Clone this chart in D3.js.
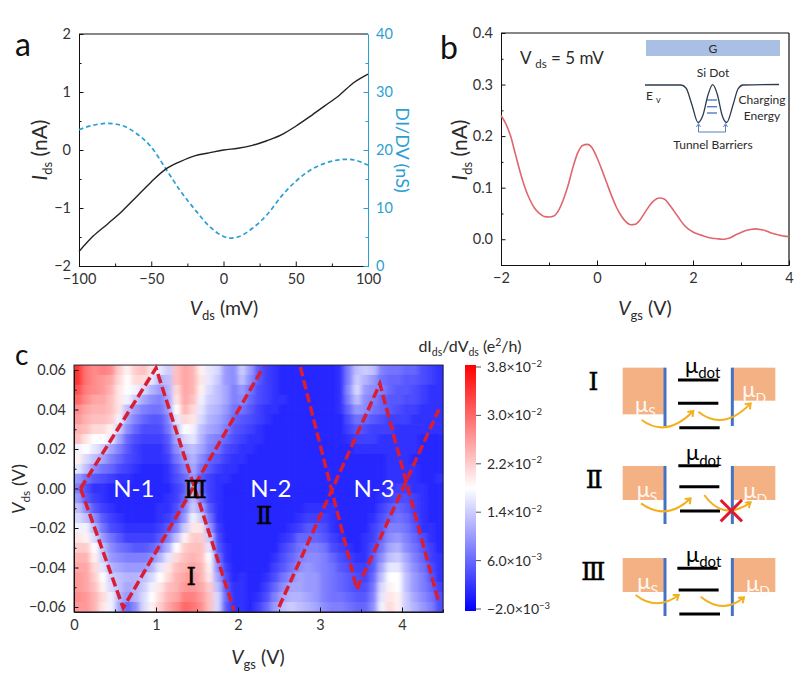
<!DOCTYPE html>
<html>
<head>
<meta charset="utf-8">
<script src="https://cdn.jsdelivr.net/npm/d3@7"></script>
<style>
body { margin: 0; background: #fff; }
svg { display: block; }
text { font-family: Lato, "Open Sans", sans-serif; fill: #2b2b2b; }
.tick text { font-size: 14.5px; }
.rom { font-family: "DejaVu Serif"; fill: #000; stroke: #000; stroke-width: 0.5px; }
</style>
</head>
<body>
<div id="vis"></div>
<script>
// panel a
var vdsA = [-100,-90,-80,-70,-60,-50,-40,-30,-20,-10,0,10,20,30,40,50,60,70,80,90,100];
var idsA = [-1.75,-1.48,-1.27,-1.05,-0.8,-0.55,-0.33,-0.2,-0.1,-0.05,0,0.03,0.08,0.16,0.26,0.41,0.58,0.76,0.94,1.16,1.31];
var vdsDidv = [-100,-90,-80,-70,-60,-50,-40,-30,-20,-10,0,5,10,20,30,40,50,60,70,80,85,90,100];
var didv = [23.5,24.3,24.6,24.2,22.8,20.5,16.8,13,9.8,6.9,5.1,4.8,5,6.5,8.8,12,14.6,16.5,17.7,18.3,18.4,18.3,17.4];

// panel b
var vgsB = [-2,-1.9,-1.8,-1.7,-1.6,-1.5,-1.4,-1.3,-1.2,-1.1,-1,-0.9,-0.8,-0.7,-0.6,-0.5,-0.4,-0.3,-0.2,-0.1,0,0.1,0.2,0.3,0.4,0.5,0.6,0.7,0.8,0.9,1,1.1,1.2,1.3,1.4,1.5,1.6,1.7,1.8,1.9,2,2.1,2.2,2.3,2.4,2.5,2.6,2.7,2.8,2.9,3,3.1,3.2,3.3,3.4,3.5,3.6,3.7,3.8,3.9,4];
var idsB = [0.24,0.224,0.2,0.165,0.13,0.1,0.077,0.06,0.05,0.044,0.043,0.045,0.056,0.077,0.105,0.14,0.168,0.182,0.184,0.177,0.158,0.135,0.11,0.085,0.063,0.046,0.034,0.028,0.029,0.038,0.052,0.066,0.076,0.08,0.078,0.068,0.055,0.042,0.029,0.02,0.014,0.01,0.007,0.004,0.002,0.001,0,0.001,0.004,0.009,0.013,0.017,0.019,0.02,0.019,0.017,0.013,0.01,0.008,0.006,0.005];

// panel c, units of 1e-3 e2/h, rows top to bottom, 45 columns of 0.1 V
var rowVds = [0.06,0.055,0.05,0.045,0.04,0.035,0.03,0.025,0.02,0.015,0.01,0.005,0,-0.005,-0.01,-0.015,-0.02,-0.025,-0.03,-0.035,-0.04,-0.045,-0.05,-0.055,-0.06];
var didvMap = [
[34,29,27,28,27,22,19,22,23,20,16,14,23,25,24,19,16,15,10,9,14,10,5,3,2,1,1,1,1,1,1,1,2,8,13,14,13,8,7,7,6,6,4,3,2],
[34,29,27,26,25,21,18,21,21,16,12,13,23,25,24,20,16,14,10,9,13,9,5,3,2,1,1,1,1,1,1,1,2,8,14,12,10,7,6,6,5,5,4,3,2],
[32,28,27,26,24,20,18,17,15,12,10,12,21,25,24,19,15,13,11,8,10,7,4,3,2,1,1,1,1,1,1,1,2,9,15,10,9,8,6,5,5,4,3,2,2],
[30,27,25,25,23,20,17,14,11,9,8,11,20,25,23,17,14,13,11,8,9,6,4,3,2,2,1,1,1,1,1,1,2,8,13,9,8,6,5,5,4,4,3,2,2],
[27,25,24,24,23,20,13,10,8,7,7,10,18,24,21,16,13,12,10,7,7,5,3,2,2,1,1,1,1,1,1,1,2,6,10,9,7,6,5,4,3,3,2,2,2],
[26,24,23,23,22,17,11,8,6,5,5,8,16,21,20,15,12,11,9,6,5,4,3,2,1,1,1,1,1,1,1,1,1,4,7,6,5,4,3,3,3,2,2,2,2],
[24,23,21,21,19,14,9,6,4,4,4,7,13,18,17,13,11,10,8,5,4,3,2,1,1,1,1,1,1,1,1,1,1,3,5,4,3,3,3,2,2,2,2,2,2],
[23,20,18,18,16,11,6,4,3,3,3,5,11,15,16,12,9,8,6,4,3,2,2,1,1,1,1,1,1,1,1,1,1,2,3,3,3,2,2,2,2,2,1,1,1],
[17,18,16,14,11,8,5,3,2,2,2,4,9,12,13,11,8,7,4,3,2,2,1,1,1,1,1,1,1,1,1,1,1,1,2,2,2,2,2,2,2,2,1,1,1],
[19,15,13,11,8,6,4,3,2,2,2,3,7,10,12,9,6,5,3,2,2,1,1,1,1,1,1,1,1,1,1,1,1,1,1,1,1,1,2,2,2,1,1,1,1],
[16,13,9,7,6,4,3,2,1,1,1,2,5,8,11,7,5,3,2,2,1,1,1,1,1,1,1,1,1,1,1,1,1,1,1,1,1,1,2,2,2,2,1,1,1],
[10,7,5,4,3,2,2,1,1,1,1,2,4,6,10,5,3,2,2,1,1,1,1,1,1,1,1,1,1,1,1,1,1,1,1,1,1,1,2,2,2,2,1,1,2],
[8,4,2,2,1,1,1,1,1,1,1,1,3,5,14,6,3,2,1,1,1,1,1,1,1,1,1,1,1,1,1,1,1,1,1,1,1,1,2,3,3,2,2,1,1],
[10,5,3,2,1,1,1,1,1,1,1,2,3,6,13,8,3,2,1,1,1,1,1,1,1,1,1,1,1,1,1,1,1,1,1,1,1,2,3,4,4,3,2,1,1],
[13,9,5,3,2,1,1,1,1,1,2,2,4,8,14,11,5,2,1,1,1,1,1,1,1,1,1,1,2,2,2,2,1,1,1,1,1,3,5,6,5,3,2,1,1],
[15,13,9,5,3,2,1,1,1,1,2,3,5,10,17,14,7,2,1,1,1,1,1,1,1,1,1,2,3,3,3,2,1,1,1,1,2,4,6,7,6,4,2,1,1],
[17,17,12,7,4,3,2,2,2,2,3,5,8,14,20,20,10,3,1,1,1,1,1,1,1,1,2,3,5,5,4,2,1,1,1,1,3,5,8,8,7,5,2,2,1],
[20,19,15,10,7,5,3,3,3,3,5,8,13,19,22,22,14,4,1,1,1,1,1,1,1,2,3,6,6,6,5,3,2,1,1,2,3,6,9,10,8,6,4,2,1],
[22,22,18,13,9,7,6,5,5,6,8,12,18,22,23,23,16,5,2,1,1,1,1,1,1,3,5,7,8,8,7,4,3,2,1,2,4,7,11,12,9,7,5,3,1],
[24,24,19,14,10,9,8,8,8,9,12,16,21,23,24,23,18,7,2,1,1,1,1,1,2,4,6,8,9,9,8,6,4,3,2,2,5,9,13,14,11,8,6,3,2],
[25,25,21,16,12,11,10,10,10,12,16,20,23,24,25,24,19,9,3,1,1,1,1,1,3,5,7,9,10,9,8,7,5,4,3,3,5,11,16,16,12,9,7,4,2],
[26,25,22,18,14,13,12,12,13,15,18,21,24,25,26,24,20,11,4,1,2,1,1,2,4,7,9,11,10,10,8,7,6,5,4,3,6,13,18,18,13,10,8,5,2],
[26,25,23,19,15,13,11,12,14,17,20,23,24,26,26,25,22,13,5,2,2,1,1,3,6,9,11,11,10,10,8,7,6,5,4,4,7,15,19,18,13,10,8,6,3],
[27,26,24,21,17,12,10,12,15,18,21,24,25,28,28,26,23,15,6,2,2,1,2,4,8,11,12,12,11,10,8,7,7,6,5,5,8,16,20,19,14,11,9,7,4],
[26,26,24,20,17,11,6,9,15,19,22,25,27,30,29,27,23,15,5,2,2,1,3,6,10,13,14,13,12,11,9,8,8,7,6,6,9,17,21,19,14,12,10,8,4]
];
var colorTicks = [-2,6,14,22,30,38];
var colorTickMant = ["\u22122.0","6.0","1.4","2.2","3.0","3.8"];
var colorTickExp = ["\u22123","\u22123","\u22122","\u22122","\u22122","\u22122"];

// dashed guide lines over the map, [Vgs, Vds]
var diamondLines = [
	[[0.08,0],[1.0,0.061],[1.95,-0.0615]],
	[[0.08,0],[0.6,-0.0605],[2.31,0.0615]],
	[[2.76,0.0615],[3.45,-0.051],[4.45,0.04]],
	[[2.5,-0.06],[3.73,0.053],[4.45,-0.058]]
];
var diamondNames = [{ t: "N-1", v: 0.73 }, { t: "N-2", v: 2.4 }, { t: "N-3", v: 3.66 }];
var romanMarks = [{ t: "\u2160", v: 1.43, d: -0.0445 }, { t: "\u2161", v: 2.32, d: -0.0135 }, { t: "\u2162", v: 1.48, d: 0 }];

var svg = d3.select("#vis").append("svg").attr("width", 800).attr("height", 677);

function subText(sel, parts, size, subSize){
	// parts: [text, "n"|"i"|"s"|"u"]
	var back = 0;
	parts.forEach(function(p){
		var ts = sel.append("tspan").text(p[0]);
		if (p[1] == "i") ts.style("font-style", "italic");
		if (p[1] == "s") { ts.attr("dy", size * 0.25 + back).style("font-size", subSize + "px"); back = -size * 0.25; }
		else if (p[1] == "u") { ts.attr("dy", -size * 0.38 + back).style("font-size", subSize + "px"); back = size * 0.38; }
		else { if (back) ts.attr("dy", back); back = 0; }
	});
	return sel;
}

function inwardAxis(axisFn, scale, major, minor, fmt, g, color){
	g.call(axisFn(scale).tickValues(minor).tickSize(-2.5).tickFormat(""));
	var a = g.append("g").call(axisFn(scale).tickValues(major).tickSize(-4.5).tickPadding(8).tickFormat(fmt));
	g.selectAll("path").attr("stroke", color);
	g.selectAll("line").attr("stroke", color);
	a.selectAll("path").remove();
	a.selectAll("text").style("fill", color == "#111" ? "#333" : color);
}

// ---- a ----
var blue = "#2b9fd4";
var xA = d3.scaleLinear().domain([-100,100]).range([79,368]);
var yA = d3.scaleLinear().domain([-2,2]).range([266,34]);
var yA2 = d3.scaleLinear().domain([0,40]).range([266,34]);

svg.append("line").attr("x1", 79).attr("x2", 368).attr("y1", 34).attr("y2", 34).attr("stroke", "#111").attr("stroke-width", 1.2);
inwardAxis(d3.axisLeft, yA, [-2,-1,0,1,2], [-1.5,-0.5,0.5,1.5], function(d){ return d3.format("d")(d).replace("-", "\u2212"); },
	svg.append("g").attr("transform", "translate(79,0)"), "#111");
inwardAxis(d3.axisBottom, xA, [-100,-50,0,50,100], [-75,-25,25,75], function(d){ return d3.format("d")(d).replace("-", "\u2212"); },
	svg.append("g").attr("transform", "translate(0,266)"), "#111");
inwardAxis(d3.axisRight, yA2, [0,10,20,30,40], [5,15,25,35], d3.format("d"),
	svg.append("g").attr("transform", "translate(368,0)"), blue);

svg.append("path").datum(d3.zip(vdsDidv, didv))
	.attr("d", d3.line().x(function(d){ return xA(d[0]); }).y(function(d){ return yA2(d[1]); }).curve(d3.curveMonotoneX))
	.attr("fill", "none").attr("stroke", blue).attr("stroke-width", 1.7).attr("stroke-dasharray", "4.5,3");
svg.append("path").datum(d3.zip(vdsA, idsA))
	.attr("d", d3.line().x(function(d){ return xA(d[0]); }).y(function(d){ return yA(d[1]); }).curve(d3.curveMonotoneX))
	.attr("fill", "none").attr("stroke", "#222").attr("stroke-width", 1.4);

var titleSize = 19.5;
subText(svg.append("text").attr("transform", "translate(47,150) rotate(-90)").attr("text-anchor", "middle").style("font-size", "21px"),
	[["I","i"],["ds","s"],[" (nA)","n"]], 21, 13);
subText(svg.append("text").attr("x", 224).attr("y", 315).attr("text-anchor", "middle").style("font-size", titleSize + "px"),
	[["V","i"],["ds","s"],[" (mV)","n"]], titleSize, 13);
svg.append("text").attr("transform", "translate(396,150) rotate(90)").attr("text-anchor", "middle")
	.style("font-size", "18px").style("fill", blue).text("DI/DV (nS)");

// ---- b ----
var red = "#e0666e";
var xB = d3.scaleLinear().domain([-2,4]).range([501,789]);
var yB = d3.scaleLinear().domain([-0.05,0.4]).range([265,33]);

svg.append("line").attr("x1", 501).attr("x2", 789).attr("y1", 33).attr("y2", 33).attr("stroke", "#111").attr("stroke-width", 1.2);
svg.append("line").attr("x1", 789).attr("x2", 789).attr("y1", 33).attr("y2", 265).attr("stroke", "#111").attr("stroke-width", 1.2);
inwardAxis(d3.axisLeft, yB, [0,0.1,0.2,0.3,0.4], [-0.05,0.05,0.15,0.25,0.35], d3.format(".1f"),
	svg.append("g").attr("transform", "translate(501,0)"), "#111");
inwardAxis(d3.axisBottom, xB, [-2,0,2,4], [-1,1,3], function(d){ return d3.format("d")(d).replace("-", "\u2212"); },
	svg.append("g").attr("transform", "translate(0,265)"), "#111");
svg.append("path").datum(d3.zip(vgsB, idsB))
	.attr("d", d3.line().x(function(d){ return xB(d[0]); }).y(function(d){ return yB(d[1]); }).curve(d3.curveMonotoneX))
	.attr("fill", "none").attr("stroke", red).attr("stroke-width", 1.6);

subText(svg.append("text").attr("transform", "translate(467,150) rotate(-90)").attr("text-anchor", "middle").style("font-size", "21px"),
	[["I","i"],["ds","s"],[" (nA)","n"]], 21, 13);
subText(svg.append("text").attr("x", 645).attr("y", 315).attr("text-anchor", "middle").style("font-size", titleSize + "px"),
	[["V","i"],["gs","s"],[" (V)","n"]], titleSize, 13);
subText(svg.append("text").attr("x", 520).attr("y", 64).style("font-size", "17px"),
	[["V ","n"],["ds","s"],[" = 5 mV","n"]], 17, 11.5);

// inset band sketch
var inset = svg.append("g");
var bandX = [645,681,686,692,698,703,708,712.7,717.5,722,726.7,733,738,743,779];
var bandY = [85,85,88,105,122.5,115,95,84.7,95,115,122.5,105,89,85,84.5];
var levelY = [100,106.7,113];
inset.append("rect").attr("x", 646).attr("y", 40).attr("width", 134).attr("height", 16).attr("fill", "#a9bfe3");
inset.append("path").datum(d3.zip(bandX, bandY))
	.attr("d", d3.line().curve(d3.curveMonotoneX)).attr("fill", "none").attr("stroke", "#2c3a4f").attr("stroke-width", 1.3);
inset.selectAll(".level").data(levelY).enter().append("line").attr("class", "level")
	.attr("x1", 707).attr("x2", 717).attr("y1", function(d){ return d; }).attr("y2", function(d){ return d; })
	.attr("stroke", "#4472c4").attr("stroke-width", 1.3);
inset.append("path").attr("d", "M698.5,125V132H725.5V125M696.5,127L698.5,123.5L700.5,127M723.5,127L725.5,123.5L727.5,127")
	.attr("fill", "none").attr("stroke", "#5b7fc0").attr("stroke-width", 1);
var insetLabels = [
	{ t: "G", x: 713, y: 53 }, { t: "Si Dot", x: 713, y: 77 },
	{ t: "Charging", x: 762, y: 104 }, { t: "Energy", x: 762, y: 120 }, { t: "Tunnel Barriers", x: 713, y: 149 }
];
inset.selectAll(".ilabel").data(insetLabels).enter().append("text").attr("class", "ilabel")
	.attr("x", function(d){ return d.x; }).attr("y", function(d){ return d.y; })
	.attr("text-anchor", "middle").style("font-size", "12px").text(function(d){ return d.t; });
subText(inset.append("text").attr("x", 646).attr("y", 100).style("font-size", "12px"), [["E ","n"],["v","s"]], 12, 9);

// ---- c ----
var xC = d3.scaleLinear().domain([0,4.5]).range([74,443]);
var yC = d3.scaleLinear().domain([-0.06,0.06]).range([607,370]);
var colorC = d3.scaleLinear().domain([-2,18,38]).range(["#0000ff","#ffffff","#ff0000"]);

var cells = [];
didvMap.forEach(function(row, r){
	row.forEach(function(v, c){ cells.push({ r: r, c: c, v: v }); });
});

var defs = svg.append("defs");
// sweep looks smooth along Vgs in the original, only rows stay steppy
var soft = defs.append("filter").attr("id", "soft").attr("x", "-2%").attr("y", "-2%").attr("width", "104%").attr("height", "104%");
soft.append("feGaussianBlur").attr("stdDeviation", "2.6 0.4");
defs.append("clipPath").attr("id", "mapclip").append("rect")
	.attr("x", 74).attr("width", 369).attr("y", yC(0.0625)).attr("height", yC(-0.0625) - yC(0.0625));

function drawCells(g){
	g.selectAll("rect").data(cells).enter().append("rect")
		.attr("x", function(d){ return xC(d.c * 0.1); })
		.attr("width", function(d){ return xC(0.1) - xC(0) + 0.4; })
		.attr("y", function(d){ return yC(rowVds[d.r] + 0.0025); })
		.attr("height", function(d){ return yC(0) - yC(0.005) + 0.4; })
		.attr("fill", function(d){ return colorC(d.v); });
}
drawCells(svg.append("g"));
drawCells(svg.append("g").attr("clip-path", "url(#mapclip)").append("g").attr("filter", "url(#soft)"));
svg.append("rect").attr("x", 74).attr("width", 369).attr("y", yC(0.0625)).attr("height", yC(-0.0625) - yC(0.0625))
	.attr("fill", "none").attr("stroke", "#223").attr("stroke-width", 1);

inwardAxis(d3.axisLeft, yC, [-0.06,-0.04,-0.02,0,0.02,0.04,0.06], [-0.05,-0.03,-0.01,0.01,0.03,0.05], function(d){ return d3.format(".2f")(d).replace("-", "\u2212"); },
	svg.append("g").attr("transform", "translate(74,0)"), "#111");
inwardAxis(d3.axisBottom, xC, [0,1,2,3,4], [0.5,1.5,2.5,3.5], d3.format("d"),
	svg.append("g").attr("transform", "translate(0," + yC(-0.0625) + ")"), "#111");

svg.selectAll(".diamond").data(diamondLines).enter().append("path").attr("class", "diamond")
	.attr("d", d3.line().x(function(d){ return xC(d[0]); }).y(function(d){ return yC(d[1]); }))
	.attr("fill", "none").attr("stroke", "#d91e32").attr("stroke-width", 3.5).attr("stroke-dasharray", "9.5,4");

svg.selectAll(".nname").data(diamondNames).enter().append("text").attr("class", "nname")
	.attr("x", function(d){ return xC(d.v); }).attr("y", yC(0) + 8)
	.attr("text-anchor", "middle").style("font-size", "24px").style("fill", "#fff").text(function(d){ return d.t; });
svg.selectAll(".roman").data(romanMarks).enter().append("text").attr("class", "roman rom")
	.attr("x", function(d){ return xC(d.v); }).attr("y", function(d){ return yC(d.d) + 9; })
	.attr("text-anchor", "middle").style("font-size", "24px").text(function(d){ return d.t; });

subText(svg.append("text").attr("transform", "translate(25,489) rotate(-90)").attr("text-anchor", "middle").style("font-size", "18px"),
	[["V","i"],["ds","s"],[" (V)","n"]], 18, 12);
subText(svg.append("text").attr("x", 258).attr("y", 664).attr("text-anchor", "middle").style("font-size", titleSize + "px"),
	[["V","i"],["gs","s"],[" (V)","n"]], titleSize, 13);

// color bar
var yBar = d3.scaleLinear().domain([-2,38]).range([609,367]);
var grad = defs.append("linearGradient").attr("id", "cbar").attr("x1", 0).attr("x2", 0).attr("y1", 1).attr("y2", 0);
grad.selectAll("stop").data([-2,18,38]).enter().append("stop")
	.attr("offset", function(d,i){ return i / 2; }).attr("stop-color", function(d){ return colorC(d); });
svg.append("rect").attr("x", 465).attr("width", 11).attr("y", 365).attr("height", 246).attr("fill", "url(#cbar)");
svg.selectAll(".cbtick").data(colorTicks).enter().append("line").attr("class", "cbtick")
	.attr("x1", 476).attr("x2", 481).attr("y1", function(d){ return yBar(d); }).attr("y2", function(d){ return yBar(d); })
	.attr("stroke", "#555").attr("stroke-width", 1);
colorTicks.forEach(function(d, i){
	subText(svg.append("text").attr("x", 487).attr("y", yBar(d) + 5).style("font-size", "14px"),
		[[colorTickMant[i] + "\u00d710","n"],[colorTickExp[i],"u"]], 14, 9.5);
});
subText(svg.append("text").attr("x", 470).attr("y", 352).attr("text-anchor", "middle").style("font-size", "16px"),
	[["dI","n"],["ds","s"],["/dV","n"],["ds","s"],[" (e","n"],["2","u"],["/h)","n"]], 16, 10.5);

// panel letters
[{ t: "a", x: 15, y: 56, s: 32 }, { t: "b", x: 440, y: 59, s: 32 }, { t: "c", x: 15, y: 365, s: 28 }].forEach(function(d){
	svg.append("text").attr("x", d.x).attr("y", d.y).style("font-size", d.s + "px").style("fill", "#111").text(d.t);
});

// ---- level sketches right of c ----
var sketchX = d3.scaleLinear().domain([0,240]).range([560,800]);
var sketchY = d3.scaleLinear().domain([0,300]).range([340,640]);
var sketches = [
	{ roman: "\u2160", rx: 100, ry: 122, left: [83,223], right: [83,182], bar: [83,258], levels: [[354,475,120],[354,475,190],[358,479,263]], mu: [375,98], muS: [225,215], muD: [547,172],
	  arrows: [[245,240,320,295,400,213],[415,215,490,275,572,190]] },
	{ roman: "\u2161", rx: 103, ry: 418, left: [378,480], right: [378,480], bar: [378,552], levels: [[355,476,377],[358,478,440],[360,480,513]], mu: [378,360], muS: [230,470], muD: [550,475],
	  arrows: [[243,490,320,545,392,475],[433,465,490,545,572,487]] },
	{ roman: "\u2162", rx: 100, ry: 693, left: [654,756], right: [654,756], bar: [654,828], levels: [[352,473,685],[356,476,750],[358,480,822]], mu: [378,665], muS: [232,748], muD: [558,752],
	  arrows: [[227,765,290,815,356,765],[422,770,490,825,552,772]] }
];
// zoom-crop units are 3x
function zx(v){ return sketchX(v / 3); }
function zy(v){ return sketchY(v / 3); }

sketches.forEach(function(s){
	var g = svg.append("g");
	g.append("rect").attr("x", zx(188)).attr("width", zx(315) - zx(188)).attr("y", zy(s.left[0])).attr("height", zy(s.left[1]) - zy(s.left[0])).attr("fill", "#f4b183");
	g.append("rect").attr("x", zx(517)).attr("width", zx(646) - zx(517)).attr("y", zy(s.right[0])).attr("height", zy(s.right[1]) - zy(s.right[0])).attr("fill", "#f4b183");
	[315,517].forEach(function(b){
		g.append("line").attr("x1", zx(b)).attr("x2", zx(b)).attr("y1", zy(s.bar[0])).attr("y2", zy(s.bar[1])).attr("stroke", "#4472c4").attr("stroke-width", 3);
	});
	s.levels.forEach(function(l){
		g.append("line").attr("x1", zx(l[0])).attr("x2", zx(l[1])).attr("y1", zy(l[2])).attr("y2", zy(l[2])).attr("stroke", "#000").attr("stroke-width", 3);
	});
	s.arrows.forEach(function(a){
		var hx = a[4] - a[2], hy = a[5] - a[3], ang = Math.atan2(hy, hx), len = 6;
		var ex = zx(a[4]), ey = zy(a[5]);
		var p = d3.path();
		p.moveTo(zx(a[0]), zy(a[1]));
		p.quadraticCurveTo(zx(a[2]), zy(a[3]), ex, ey);
		p.moveTo(ex + len * Math.cos(ang + 2.5), ey + len * Math.sin(ang + 2.5));
		p.lineTo(ex, ey);
		p.lineTo(ex + len * Math.cos(ang - 2.5), ey + len * Math.sin(ang - 2.5));
		g.append("path").attr("d", p.toString()).attr("fill", "none").attr("stroke", "#f2b01e").attr("stroke-width", 2);
	});
	subText(g.append("text").attr("x", zx(s.mu[0])).attr("y", zy(s.mu[1])).style("font-size", "22px").style("fill", "#000"),
		[["\u03bc","n"],["dot","s"]], 22, 15);
	subText(g.append("text").attr("x", zx(s.muS[0])).attr("y", zy(s.muS[1])).style("font-size", "22px").style("fill", "#fff8f2"),
		[["\u03bc","n"],["S","s"]], 22, 14);
	subText(g.append("text").attr("x", zx(s.muD[0])).attr("y", zy(s.muD[1])).style("font-size", "22px").style("fill", "#fff8f2"),
		[["\u03bc","n"],["D","s"]], 22, 14);
	g.append("text").attr("class", "rom").attr("x", zx(s.rx)).attr("y", zy(s.ry) + 9).attr("text-anchor", "middle").style("font-size", "25px").text(s.roman);
});

// blocked path in II
var crossX = [482,546], crossY = [480,544];
[[0,1],[1,0]].forEach(function(o){
	svg.append("line").attr("x1", zx(crossX[0])).attr("x2", zx(crossX[1])).attr("y1", zy(crossY[o[0]])).attr("y2", zy(crossY[o[1]]))
		.attr("stroke", "#dc1c2e").attr("stroke-width", 3);
});
</script>
</body>
</html>
